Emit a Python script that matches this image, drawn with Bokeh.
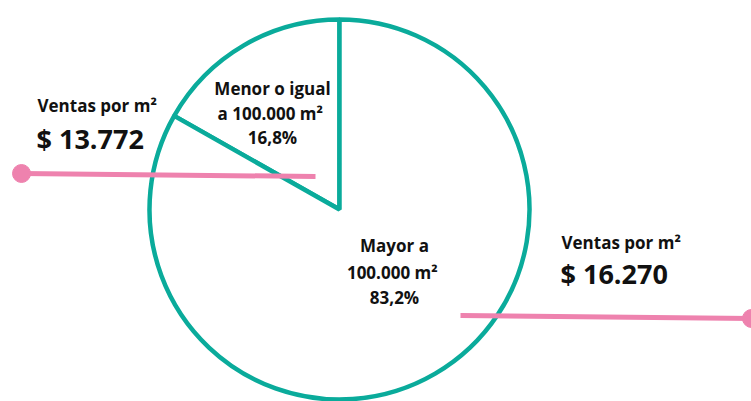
import math
from bokeh.plotting import figure
from bokeh.models import Range1d, ColumnDataSource
from bokeh.core.properties import value
from bokeh.embed import file_html
from bokeh.resources import INLINE

# ---- data ----
segments = ["Menor o igual\na 100.000  m²", "Mayor a\n100.000  m²"]
shares = [16.8, 83.2]
share_labels = ["16,8%", "83,2%"]
ventas_labels = ["Ventas por m²", "Ventas por m²"]
ventas_values = [13772, 16270]

W, H = 751, 401
p = figure(width=W, height=H, output_backend="svg", toolbar_location=None,
           x_range=Range1d(0, W), y_range=Range1d(0, H), min_border=0)
p.axis.visible = False
p.grid.visible = False
p.outline_line_color = None
p.background_fill_color = "white"
p.border_fill_color = "white"

TEAL = "#0AAB9B"
PINK = "#EE82AE"
FONT = value("Open Sans")

cx, cy, r = 339, 192, 190

# wedges: start at 12 o'clock, counterclockwise
starts, ends = [], []
acc = 90.0
for s in shares:
    starts.append(math.radians(acc))
    acc += s / 100 * 360
    ends.append(math.radians(acc))
src = ColumnDataSource(dict(start=starts, end=ends, seg=segments))
p.wedge(x=cx, y=cy, radius=r, start_angle="start", end_angle="end", source=src,
        fill_color="white", line_color=TEAL, line_width=4.5)

# pink indicator lines
p.line(x=[21, 315], y=[228, 225], line_color=PINK, line_width=5)
p.scatter(x=[21], y=[228], size=18, fill_color=PINK, line_color=PINK)
p.line(x=[460, 751], y=[86, 83], line_color=PINK, line_width=5)
p.scatter(x=[751], y=[83], size=18, fill_color=PINK, line_color=PINK)

# slice labels
menor_lines = segments[0].split("\n") + [share_labels[0]]
mayor_lines = segments[1].split("\n") + [share_labels[1]]
p.text(x=[272] * 3, y=[313, 288, 264], text=menor_lines, text_font=FONT,
       text_font_style="bold", text_font_size="17px", text_align="center",
       text_baseline="middle", text_color="#111111")
p.text(x=[394] * 3, y=[156, 129, 104], text=mayor_lines, text_font=FONT,
       text_font_style="bold", text_font_size="17px", text_align="center",
       text_baseline="middle", text_color="#111111")

# ventas labels
def fmt(v):
    return "$ " + f"{v:,}".replace(",", ".")

p.text(x=[37, 561], y=[296, 159], text=ventas_labels, text_font=FONT,
       text_font_style="bold", text_font_size="17px", text_align="left",
       text_baseline="middle", text_color="#111111")
p.text(x=[36, 560], y=[263, 128], text=[fmt(v) for v in ventas_values], text_font=FONT,
       text_font_style="bold", text_font_size="27px", text_align="left",
       text_baseline="middle", text_color="#111111")

open("out.html", "w").write(file_html(p, INLINE))
